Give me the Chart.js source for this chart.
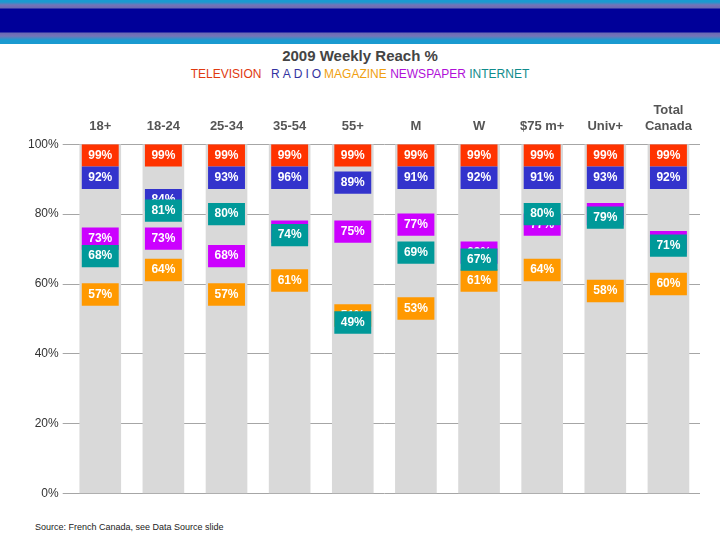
<!DOCTYPE html>
<html>
<head>
<meta charset="utf-8">
<script src="https://cdn.jsdelivr.net/npm/chart.js@4"></script>
<style>
  body { margin: 0; width: 720px; height: 540px; background: #fff; position: relative; overflow: hidden; font-family: "Liberation Sans", Arial, sans-serif; }
  .banner { position: absolute; left: 0; top: 0; width: 720px; height: 44px;
    background: linear-gradient(#1a9ad0 0px, #1a9ad0 2px, #7474b8 5px, #6a6ab4 8px, #000099 9px, #000099 32px, #6a6ab4 33px, #7474b8 36px, #1a9ad0 40px, #1a9ad0 44px); }
  .title { position: absolute; top: 47px; left: 0; width: 720px; text-align: center; font-size: 15px; font-weight: bold; color: #444; }
  .media { position: absolute; top: 67px; left: 0; width: 720px; text-align: center; font-size: 12px; font-family: "Liberation Sans Narrow", "Liberation Sans", sans-serif; }
  .wrap { position: absolute; left: 0; top: 101px; width: 720px; height: 404px; }
  .source { position: absolute; left: 35px; top: 522px; font-size: 9px; color: #222; }
</style>
</head>
<body>
<div class="banner"></div>
<div class="title">2009 Weekly Reach %</div>
<div class="media">
  <span style="color:#e03a10">TELEVISION</span>
  <span style="color:#3333a0;letter-spacing:3px">&nbsp;RADIO</span><span style="color:#f0a010">MAGAZINE</span>
  <span style="color:#b010d8">NEWSPAPER</span>
  <span style="color:#108c8c">INTERNET</span>
</div>
<div class="wrap"><canvas id="reach"></canvas></div>
<div class="source">Source: French Canada, see Data Source slide</div>
<script>
const categories = ["18+", "18-24", "25-34", "35-54", "55+", "M", "W", "$75 m+", "Univ+", ["Total", "Canada"]];
const television = [99, 99, 99, 99, 99, 99, 99, 99, 99, 99];
const radio = [92, 84, 93, 96, 89, 91, 92, 91, 93, 92];
const magazine = [57, 64, 57, 61, 51, 53, 61, 64, 58, 60];
const newspaper = [73, 73, 68, 75, 75, 77, 69, 77, 80, 72];
const internet = [68, 81, 80, 74, 49, 69, 67, 80, 79, 71];
const yTicks = [0, 20, 40, 60, 80, 100];

const HALF = 3.2;
const tvBox = television.map(v => [Math.min(100, v + HALF) - 2 * HALF, Math.min(100, v + HALF)]);
const radioBox = radio.map((v, i) => {
  const top = Math.min(v + HALF, tvBox[i][0]);
  return [top - 2 * HALF, top];
});
const centered = arr => arr.map(v => [v - HALF, v + HALF]);

function series(label, boxes, values, color, order) {
  return {
    label, data: boxes, values, backgroundColor: color, order,
    barPercentage: 0.9, categoryPercentage: 0.65, borderSkipped: false
  };
}

const boxLabels = {
  id: "boxLabels",
  afterDatasetDraw(chart, args) {
    const ds = chart.data.datasets[args.index];
    if (!ds.values) return;
    const ctx = chart.ctx;
    ctx.save();
    ctx.fillStyle = "#fff";
    ctx.font = "bold 12px 'Liberation Sans', Arial, sans-serif";
    ctx.textAlign = "center";
    ctx.textBaseline = "middle";
    args.meta.data.forEach((bar, i) => {
      ctx.fillText(ds.values[i] + "%", bar.x, (bar.y + bar.base) / 2);
    });
    ctx.restore();
  }
};

new Chart(document.getElementById("reach"), {
  type: "bar",
  data: {
    labels: categories,
    datasets: [
      { label: "base", data: categories.map(() => 100), backgroundColor: "#d9d9d9", order: 10,
        barPercentage: 1, categoryPercentage: 0.66 },
      series("TELEVISION", tvBox, television, "#ff3300", 5),
      series("RADIO", radioBox, radio, "#3333cc", 4),
      series("MAGAZINE", centered(magazine), magazine, "#ff9900", 3),
      series("NEWSPAPER", centered(newspaper), newspaper, "#cc00ff", 2),
      series("INTERNET", centered(internet), internet, "#009999", 1)
    ]
  },
  options: {
    responsive: true,
    maintainAspectRatio: false,
    animation: false,
    layout: { padding: { left: 24, right: 20, top: 0, bottom: 8 } },
    plugins: { legend: { display: false }, tooltip: { enabled: false } },
    scales: {
      x: {
        position: "top",
        stacked: true,
        grid: { display: false },
        border: { display: false },
        ticks: { color: "#555", font: { family: "'Liberation Sans', Arial", size: 13, weight: "bold" }, maxRotation: 0, autoSkip: false, padding: 2 }
      },
      y: {
        min: 0, max: 100,
        afterBuildTicks: axis => { axis.ticks = yTicks.map(v => ({ value: v })); },
        grid: { color: "#a6a6a6", tickLength: 6, lineWidth: 1 },
        border: { display: false },
        ticks: { color: "#333", font: { family: "'Liberation Sans', Arial", size: 12 }, callback: v => v + "%", padding: 4 }
      }
    }
  },
  plugins: [boxLabels]
});
</script>
</body>
</html>
